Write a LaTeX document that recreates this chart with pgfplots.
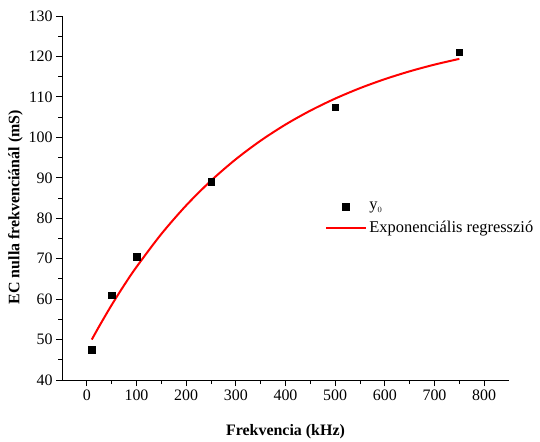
\documentclass[border=0pt]{standalone}
\usepackage{pgfplots}
\pgfplotsset{compat=1.18}
\usetikzlibrary{calc}
\usepackage{fontspec}
\setmainfont{Liberation Serif}
\definecolor{fitred}{HTML}{FF0000}
\pgfplotsset{
  marklegend/.style={legend image code/.code={\draw[##1] plot coordinates {(19.5bp,0bp)};}},
  linelegend/.style={legend image code/.code={\draw[##1] (0bp,0bp) -- (40bp,0bp);}},
}

\begin{document}
\begin{tikzpicture}
\begin{axis}[
  name=ax,
  scale only axis,width=447bp,height=364bp,
  xmin=-50,xmax=850,ymin=40,ymax=130,
  axis x line*=bottom,axis y line*=left,
  axis line style={line width=1pt,-},
  xtick={0,100,...,800},ytick={40,50,...,130},
  minor x tick num=1,minor y tick num=1,
  tick align=outside,
  major tick length=6bp,minor tick length=4bp,
  tick style={line width=0.9pt,black},
  ticklabel style={font=\fontsize{16}{18}\selectfont},
  /pgf/number format/assume math mode=true,
  xlabel={\bfseries Frekvencia (kHz)},
  ylabel={\bfseries EC nulla frekvenciánál (mS)},
  xlabel style={font=\fontsize{16}{18}\selectfont,yshift=-17bp},
  ylabel style={font=\fontsize{16}{18}\selectfont,at={(ticklabel cs:0.475)},yshift=-1bp},
  legend style={at={(0.582,0.50)},anchor=north west,draw=none,fill=none,
    font=\fontsize{16.5}{19}\selectfont,row sep=6bp},
  legend cell align=left,
]
\addplot[only marks,mark=square*,mark size=3.2bp,black,marklegend] coordinates {
  (10,47.5) (50,61) (100,70.5) (250,89) (500,107.5) (750,121)};
\addlegendentry{y$_{\scriptscriptstyle 0}$}
\addplot[fitred,line width=2pt,smooth,linelegend] coordinates {
  (10,50) (25,53.31) (50,58.55) (75,63.42) (100,67.95) (150,76.10)
  (200,83.16) (250,89.28) (300,94.59) (350,99.18) (400,103.16)
  (450,106.60) (500,109.58) (550,112.16) (600,114.39) (650,116.32)
  (700,117.98) (750,119.4)};
\addlegendentry{Exponenciális regresszió}
\end{axis}
\pgfresetboundingbox
\path ($(ax.south west)+(-62bp,-61bp)$) rectangle ($(ax.north east)+(31bp,16bp)$);
\end{tikzpicture}
\end{document}
